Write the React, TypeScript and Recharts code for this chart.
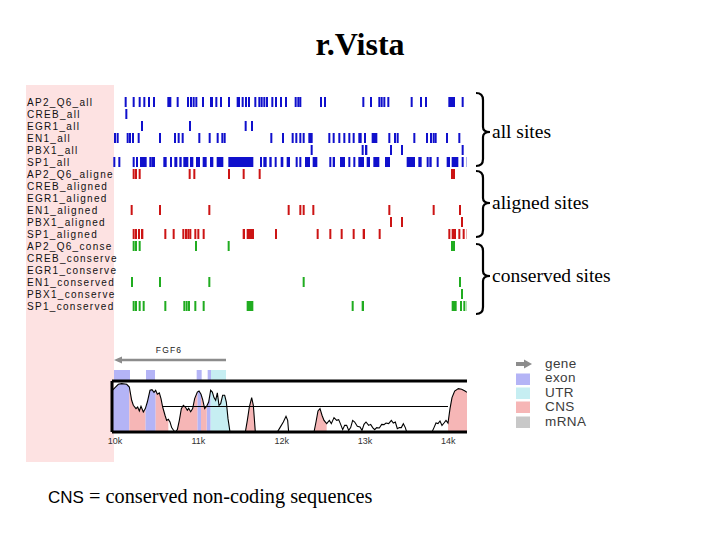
import React from 'react';
import {
  ScatterChart, Scatter, XAxis, YAxis, ComposedChart, Area, Line,
  ReferenceLine, ReferenceArea, ReferenceDot, Legend,
} from 'recharts';

// ---------- data ----------
type Site = number | [number, number];

const trackLabels = [
  'AP2_Q6_all', 'CREB_all', 'EGR1_all', 'EN1_all', 'PBX1_all', 'SP1_all',
  'AP2_Q6_aligne', 'CREB_aligned', 'EGR1_aligned', 'EN1_aligned', 'PBX1_aligned', 'SP1_aligned',
  'AP2_Q6_conse', 'CREB_conserve', 'EGR1_conserve', 'EN1_conserved', 'PBX1_conserve', 'SP1_conserved',
];

const ap2All: Site[] = [10116, 10212, 10284, 10340, 10396, 10456, [10628, 10676], 10740, 10864, 10900, 10932, 10964, 11044, [11140, 11176], 11204, 11260, 11356, 11460, 11476, 11520, 11560, 11596, 11672, 11720, 11748, 11780, 11812, 11876, 11920, 11980, 12040, 12156, 12188, 12212, 12460, 12508, 12968, 13060, 13160, 13188, 13220, 13268, 13548, 13660, 13720, [14000, 14080], 14160];
const crebAll: Site[] = [10124];
const egr1All: Site[] = [10312, 10888, 11556, 11632];
const en1All: Site[] = [9988, 10020, 10140, 10168, 10204, 10272, 10528, 10708, 10752, 10800, 11000, 11124, 11220, 11276, 11304, 11864, 12004, 12120, 12164, 12212, 12252, [12320, 12372], 12560, 12612, 12680, 12740, 12800, 12852, [12920, 12960], 12988, [13080, 13148], 13280, 13348, 13380, 13580, 13732, 13780, 13812, 13836, 13972, 14120];
const pbx1All: Site[] = [12348, 12960, [13000, 13028], 13300, 13432, 14160];
const sp1All: Site[] = [[9980, 10004], [10040, 10064], 10212, [10252, 10276], [10300, 10380], 10412, 10436, [10452, 10480], [10580, 10620], 10660, [10712, 10748], [10772, 10800], [10820, 10880], [10900, 10940], [10972, 11020], [11052, 11100], [11140, 11180], [11220, 11300], [11360, 11660], [11740, 11760], [11780, 11820], [11852, 11880], [11916, 11940], [11988, 12020], [12060, 12100], 12168, 12212, [12280, 12340], [12372, 12428], 12572, [12612, 12640], [12700, 12760], [12800, 12820], 12860, [12920, 12988], [13020, 13060], [13100, 13172], [13240, 13300], [13500, 13600], [13640, 13680], 13740, [13772, 13800], 13860, [13980, 14020], [14040, 14120], [14160, 14180], 14220];

const ap2Aligned: Site[] = [10212, 10240, 10284, 10884, [10940, 10964], 11356, 11532, 11724, [14032, 14080]];
const crebAligned: Site[] = [];
const egr1Aligned: Site[] = [];
const en1Aligned: Site[] = [10188, 10528, 11120, 12072, 12212, 12252, 12368, 13280, 13812, 14128];
const pbx1Aligned: Site[] = [13300, 13432, 14152];
const sp1Aligned: Site[] = [10212, 10240, [10276, 10296], [10312, 10340], 10592, 10692, 10808, 10840, 10868, 10892, 10952, 10988, 11052, [11532, 11560], [11580, 11668], 11920, 12420, 12572, 12708, 12852, [12972, 13000], 13164, [14000, 14020], [14040, 14092], [14120, 14140], 14172, 14220];

const ap2Conserved: Site[] = [10212, 10240, 10284, 10960, 11352, [14032, 14080]];
const crebConserved: Site[] = [];
const egr1Conserved: Site[] = [];
const en1Conserved: Site[] = [10192, 10528, 11120, 12252, 14128];
const pbx1Conserved: Site[] = [14152];
const sp1Conserved: Site[] = [10212, 10240, 10284, 10332, 10592, 10820, 10848, 10876, 10952, 11052, [11580, 11660], 12840, [12960, 12988], [14040, 14100], 14140, 14180, 14220];

const allRows: Site[][] = [ap2All, crebAll, egr1All, en1All, pbx1All, sp1All];
const alignedRows: Site[][] = [ap2Aligned, crebAligned, egr1Aligned, en1Aligned, pbx1Aligned, sp1Aligned];
const conservedRows: Site[][] = [ap2Conserved, crebConserved, egr1Conserved, en1Conserved, pbx1Conserved, sp1Conserved];

// conservation profile (position bp, % identity)
const convPos = [9968, 10000, 10040, 10080, 10140, 10172, 10200, 10220, 10252, 10272, 10292, 10312, 10340, 10364, 10388, 10420, 10444, 10468, 10488, 10508, 10532, 10552, 10572, 10600, 10620, 10640, 10660, 10680, 10708, 10724, 10748, 10772, 10796, 10820, 10844, 10868, 10884, 10908, 10932, 10956, 10988, 11008, 11032, 11052, 11076, 11100, 11124, 11148, 11168, 11188, 11208, 11228, 11248, 11268, 11292, 11316, 11336, 11356, 11380, 11564, 11588, 11612, 11640, 11660, 11684, 11948, 11980, 12020, 12052, 12072, 12084, 12388, 12412, 12436, 12460, 12484, 12508, 12540, 12572, 12596, 12628, 12660, 12684, 12708, 12732, 12756, 12780, 12804, 12828, 12852, 12876, 12908, 12940, 12964, 12988, 13012, 13044, 13068, 13092, 13116, 13140, 13172, 13200, 13228, 13252, 13284, 13316, 13340, 13364, 13388, 13412, 13436, 13460, 13484, 13500, 13804, 13828, 13852, 13876, 13900, 13924, 13948, 13972, 13996, 14020, 14044, 14076, 14120, 14160, 14200, 14224];
const convVal = [90.9, 93.5, 96.8, 97.4, 96.8, 94.1, 81.1, 76.2, 72.9, 74.5, 70.6, 75.2, 69.6, 72.9, 79.4, 90.9, 91.5, 88.9, 90.9, 87.0, 88.3, 82.7, 74.5, 66.4, 61.4, 62.4, 59.8, 54.3, 51.0, 50, 52.3, 61.4, 72.9, 76.2, 74.5, 71.3, 73.2, 69.9, 72.9, 82.7, 89.2, 90.2, 87.0, 81.7, 72.9, 75.2, 79.4, 90.9, 89.2, 83.7, 81.1, 88.3, 76.2, 77.8, 86.0, 86.0, 79.4, 63.1, 50, 50, 61.4, 74.5, 83.7, 76.2, 50, 50, 54.3, 59.8, 65.4, 61.4, 50, 50, 59.8, 70.6, 72.9, 66.4, 61.4, 58.2, 61.4, 58.2, 64.1, 61.4, 62.1, 57.5, 52.3, 56.5, 56.5, 51.6, 54.3, 61.4, 59.8, 55.6, 54.9, 51.6, 57.5, 59.8, 56.5, 57.5, 54.3, 52.3, 54.3, 53.9, 57.5, 57.2, 58.8, 58.2, 61.4, 58.8, 59.8, 53.3, 54.3, 54.3, 58.2, 54.3, 50, 50, 54.3, 58.8, 58.2, 60.8, 56.5, 58.8, 61.4, 58.8, 72.9, 83.7, 90.2, 92.5, 91.9, 90.2, 88.9];

const exonFillRegions: [number, number][] = [[9968, 10172], [10364, 10488], [10988, 11032], [11100, 11148]];
const utrFillRegions: [number, number][] = [[11148, 11380]];
const cnsFillRegions: [number, number][] = [[10172, 10364], [10488, 10640], [10748, 10988], [11032, 11100], [11564, 11684], [12388, 12540], [13996, 14224]];

const geneExons: [number, number][] = [[9988, 10180], [10372, 10480], [10980, 11040], [11112, 11152]];
const geneUtrs: [number, number][] = [[11152, 11332]];
const geneName = 'FGF6';
const geneStart = 10000;
const geneEnd = 11332;

const axisTicks = [10000, 11000, 12000, 13000, 14000];
const threshold = 75;
const thresholdFrom = 10572;
const thresholdTo = 13996;

const legendNames = ['gene', 'exon', 'UTR', 'CNS', 'mRNA'];
const legendColors = ['#8c8c8c', '#b4b4f6', '#c6eef2', '#f6b6b6', '#c8c8c8'];

// ---------- layout / style ----------
const X_MIN = 9964;
const X_MAX = 14224;
const PLOT_LEFT = 112;
const PLOT_RIGHT = 467;
const PX_PER_BP = (PLOT_RIGHT - PLOT_LEFT) / (X_MAX - X_MIN);
const TICK_BP = 24;
const TICK_H = 10;
const BLUE = '#1010cc';
const RED = '#cc1414';
const GREEN = '#20ac20';
const EXON = '#b4b4f6';
const UTR = '#c6eef2';
const CNS = '#f6b6b6';
const SANS = 'Liberation Sans, Arial, sans-serif';
const SERIF = 'Liberation Serif, Times New Roman, serif';

const toPoints = (rows: Site[][], offset: number) =>
  rows.flatMap((sites, i) =>
    sites.map((s) =>
      Array.isArray(s)
        ? { x: s[0], y: offset + i, w: s[1] - s[0] }
        : { x: s, y: offset + i, w: TICK_BP },
    ),
  );

const allPts = toPoints(allRows, 0);
const alignedPts = toPoints(alignedRows, 6);
const conservedPts = toPoints(conservedRows, 12);
const rowTicks = trackLabels.map((_, i) => i);

const inRegions = (p: number, regions: [number, number][]) => regions.some(([a, b]) => p >= a && p <= b);
const convData = convPos.map((x, i) => ({
  x,
  v: convVal[i],
  exon: inRegions(x, exonFillRegions) ? convVal[i] : null,
  utr: inRegions(x, utrFillRegions) ? convVal[i] : null,
  cns: inRegions(x, cnsFillRegions) ? convVal[i] : null,
}));

const makeTick = (color: string) => (props: any) => {
  const { cx, cy, payload } = props;
  if (cx == null || cy == null) return <g />;
  const w = Math.max(2, payload.w * PX_PER_BP);
  return <rect x={cx} y={cy - TICK_H / 2} width={w} height={TICK_H} fill={color} />;
};

const TrackLabel = (props: any) => {
  const { y, payload } = props;
  return (
    <text x={27} y={y} dy="0.36em" fontSize={10} fontFamily={SANS} letterSpacing={1.3} fill="#111" textAnchor="start">
      {trackLabels[payload.value]}
    </text>
  );
};

const arrowHead = (props: any) => {
  const { cx, cy } = props;
  if (cx == null || cy == null) return <g />;
  return <path d={`M${cx - 1} ${cy} L${cx + 7} ${cy - 3.5} L${cx + 7} ${cy + 3.5} Z`} fill="#8c8c8c" />;
};

const geneLabel = (props: any) => {
  const { cx, cy } = props;
  if (cx == null || cy == null) return <g />;
  return (
    <text x={cx} y={cy} dy="0.35em" textAnchor="middle" fontSize={8.5} fontFamily={SANS} letterSpacing={1.2} fill="#222">
      {geneName}
    </text>
  );
};

const LegendBox = () => (
  <div style={{ fontFamily: SANS, fontSize: 13.5, color: '#3c3c3c' }}>
    {legendNames.map((n, i) => (
      <div key={n} style={{ height: 14.4, lineHeight: '14.4px', display: 'flex', alignItems: 'center' }}>
        <svg width={31} height={14} style={{ flex: 'none' }}>
          {i === 0 ? (
            <g>
              <rect x={2} y={5} width={10} height={4} fill={legendColors[i]} />
              <path d="M10 2.5 L18 7 L10 11.5 Z" fill={legendColors[i]} />
            </g>
          ) : (
            <rect x={2} y={1.5} width={14} height={11.5} fill={legendColors[i]} />
          )}
        </svg>
        <span style={{ letterSpacing: 0.4 }}>{n}</span>
      </div>
    ))}
  </div>
);

const bracePath = (y1: number, y2: number, ym: number) => {
  const lx = 476, x0 = 483, tx = 490;
  return `M${lx} ${y1} Q${x0} ${y1} ${x0} ${y1 + 7} L${x0} ${ym - 5} Q${x0} ${ym} ${tx} ${ym} Q${x0} ${ym} ${x0} ${ym + 5} L${x0} ${y2 - 7} Q${x0} ${y2} ${lx} ${y2}`;
};
const braces = [
  { y1: 93, y2: 166, ym: 132, text: 'all sites' },
  { y1: 171, y2: 237, ym: 203, text: 'aligned sites' },
  { y1: 244, y2: 314, ym: 276, text: 'conserved sites' },
];

export default function App() {
  return (
    <div style={{ position: 'absolute', left: 0, top: 0, width: 720, height: 540, background: '#fff', overflow: 'hidden' }}>
      <div style={{ position: 'absolute', left: 26, top: 85, width: 88, height: 377, background: '#fde2e2' }} />

      <div style={{ position: 'absolute', left: 0, top: 0 }}>
        <ScatterChart width={720} height={330} margin={{ top: 96, right: 720 - PLOT_RIGHT, bottom: 18, left: 26 }}>
          <XAxis type="number" dataKey="x" domain={[X_MIN, X_MAX]} hide allowDataOverflow />
          <YAxis type="number" dataKey="y" domain={[-0.5, 17.5]} reversed width={PLOT_LEFT - 26} ticks={rowTicks} interval={0} axisLine={false} tickLine={false} tick={<TrackLabel />} allowDataOverflow />
          <Scatter data={allPts} shape={makeTick(BLUE)} isAnimationActive={false} />
          <Scatter data={alignedPts} shape={makeTick(RED)} isAnimationActive={false} />
          <Scatter data={conservedPts} shape={makeTick(GREEN)} isAnimationActive={false} />
        </ScatterChart>
      </div>

      <div style={{ position: 'absolute', left: 0, top: 0 }}>
        <ComposedChart width={720} height={380} data={[{ x: geneStart, y: 2 }]} margin={{ top: 340, right: 720 - PLOT_RIGHT, bottom: 0, left: PLOT_LEFT }}>
          <XAxis type="number" dataKey="x" domain={[X_MIN, X_MAX]} hide allowDataOverflow />
          <YAxis type="number" dataKey="y" domain={[0, 4]} hide allowDataOverflow />
          {geneExons.map(([a, b], i) => (
            <ReferenceArea key={'e' + i} x1={a} x2={b} y1={0} y2={1} fill={EXON} fillOpacity={1} stroke="none" />
          ))}
          {geneUtrs.map(([a, b], i) => (
            <ReferenceArea key={'u' + i} x1={a} x2={b} y1={0} y2={1} fill={UTR} fillOpacity={1} stroke="none" />
          ))}
          <ReferenceLine segment={[{ x: geneEnd, y: 2 }, { x: geneStart + 60, y: 2 }]} stroke="#8c8c8c" strokeWidth={2.6} />
          <Scatter dataKey="y" shape={arrowHead} isAnimationActive={false} />
          <ReferenceDot x={(geneStart + geneEnd) / 2 - 18} y={3} r={1} shape={geneLabel} />
        </ComposedChart>
      </div>

      <div style={{ position: 'absolute', left: 0, top: 0 }}>
        <ComposedChart width={720} height={460} data={convData} margin={{ top: 381, right: 720 - PLOT_RIGHT, bottom: 8, left: PLOT_LEFT }}>
          <XAxis type="number" dataKey="x" domain={[X_MIN, X_MAX]} ticks={axisTicks} interval={0}
            tickFormatter={(v: number) => `${v / 1000}k`} height={20} tickLine={false} tickSize={0} tickMargin={6}
            axisLine={{ stroke: '#000', strokeWidth: 3 }} tick={{ fontSize: 9, fill: '#333', fontFamily: SANS }} allowDataOverflow />
          <YAxis type="number" domain={[50, 100]} hide allowDataOverflow />
          <Area dataKey="exon" type="linear" fill={EXON} fillOpacity={1} stroke="none" baseValue={50} connectNulls={false} dot={false} activeDot={false} isAnimationActive={false} />
          <Area dataKey="utr" type="linear" fill={UTR} fillOpacity={1} stroke="none" baseValue={50} connectNulls={false} dot={false} activeDot={false} isAnimationActive={false} />
          <Area dataKey="cns" type="linear" fill={CNS} fillOpacity={1} stroke="none" baseValue={50} connectNulls={false} dot={false} activeDot={false} isAnimationActive={false} />
          <ReferenceLine segment={[{ x: thresholdFrom, y: threshold }, { x: thresholdTo, y: threshold }]} stroke="#000" strokeWidth={1} />
          <Line dataKey="v" type="linear" stroke="#000" strokeWidth={1.1} dot={false} activeDot={false} isAnimationActive={false} />
          <ReferenceLine y={100} stroke="#000" strokeWidth={3} />
          <ReferenceLine x={X_MIN} stroke="#000" strokeWidth={3} />
          <Legend layout="vertical" align="center" verticalAlign="middle"
            wrapperStyle={{ position: 'absolute', left: 514, top: 357, width: 110, height: 75 }}
            content={() => <LegendBox />} />
        </ComposedChart>
      </div>

      <svg width={720} height={540} style={{ position: 'absolute', left: 0, top: 0, pointerEvents: 'none' }}>
        <text x={360} y={55} textAnchor="middle" fontFamily={SERIF} fontWeight="bold" fontSize={32} fill="#000">r.Vista</text>
        {braces.map((b) => (
          <g key={b.text}>
            <path d={bracePath(b.y1, b.y2, b.ym)} fill="none" stroke="#000" strokeWidth={2.2} />
            <text x={492} y={b.ym + 6} fontFamily={SERIF} fontSize={19.5} fill="#000">{b.text}</text>
          </g>
        ))}
        <text x={48} y={503} fill="#000">
          <tspan fontFamily={SANS} fontSize={17}>CNS</tspan>
          <tspan fontFamily={SERIF} fontSize={20.3}> = conserved non-coding sequences</tspan>
        </text>
      </svg>
    </div>
  );
}
